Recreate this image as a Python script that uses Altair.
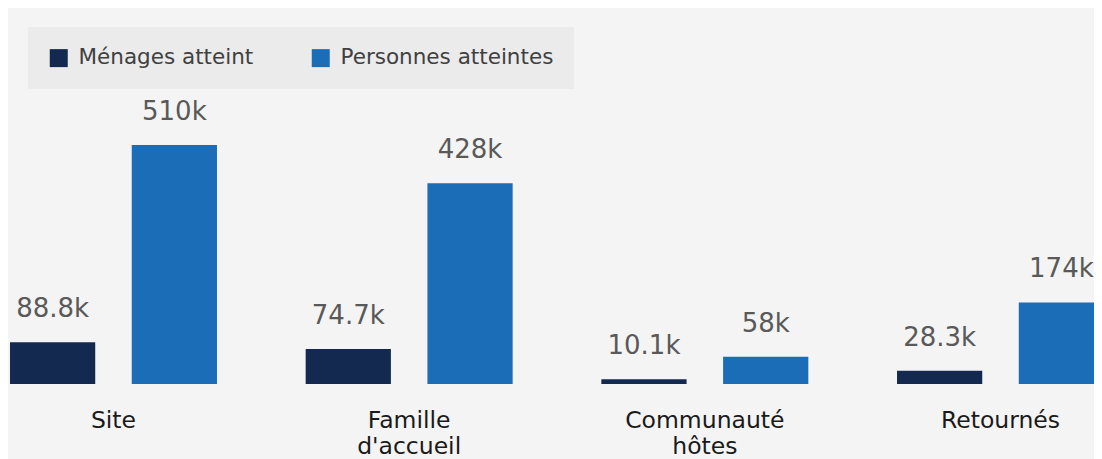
import altair as alt
import pandas as pd

categories = ["Site", "Famille d'accueil", "Communauté hôtes", "Retournés"]
series = ["Ménages atteint", "Personnes atteintes"]
menages = [88800, 74700, 10100, 28300]
personnes = [510000, 428000, 58000, 174000]
colors = ["#14294f", "#1b6db8"]

rows = []
for c, m, p in zip(categories, menages, personnes):
    rows.append({"cat": c, "serie": series[0], "val": m})
    rows.append({"cat": c, "serie": series[1], "val": p})
df = pd.DataFrame(rows)

FONT = "DejaVu Sans"

x = alt.X(
    "cat:N",
    sort=categories,
    scale=alt.Scale(range=[2, 1096], paddingInner=0.3, paddingOuter=0),
    axis=alt.Axis(
        title=None, labelAngle=0, domain=False, ticks=False, grid=False,
        labelFontSize=23.5, labelFont=FONT, labelColor="#1a1a1a",
        labelPadding=24, labelLineHeight=26,
        labelExpr="split(datum.label, ' ')",
    ),
)
xo = alt.XOffset("serie:N", sort=series,
                 scale=alt.Scale(paddingInner=0.3, paddingOuter=0))
y = alt.Y("val:Q", scale=alt.Scale(domain=[0, 802000]), axis=None)

color = alt.Color(
    "serie:N",
    sort=series,
    scale=alt.Scale(domain=series, range=colors),
    legend=alt.Legend(
        title=None, orient="none", legendX=20, legendY=19,
        direction="horizontal", fillColor="#ebebeb", padding=20,
        symbolType="square", symbolSize=324, symbolStrokeWidth=0,
        labelFontSize=21.5, labelFont=FONT, labelColor="#404040",
        labelOffset=9, columnPadding=56, labelLimit=400,
    ),
)

base = alt.Chart(df).encode(x=x, xOffset=xo, y=y)

bars = base.mark_bar().encode(color=color)
labels = base.mark_text(
    dy=-25, baseline="alphabetic", fontSize=26, font=FONT, color="#595959"
).encode(text=alt.Text("val:Q", format="~s"))

chart = (
    alt.layer(bars, labels)
    .properties(
        width=1086, height=376, background="#f4f4f4",
        padding={"left": 0, "top": 0, "right": 0, "bottom": 75},
        autosize=alt.AutoSizeParams(type="none"),
    )
    .configure_view(strokeWidth=0)
)

chart.save("out.html", embed_options={"renderer": "svg", "actions": False})
